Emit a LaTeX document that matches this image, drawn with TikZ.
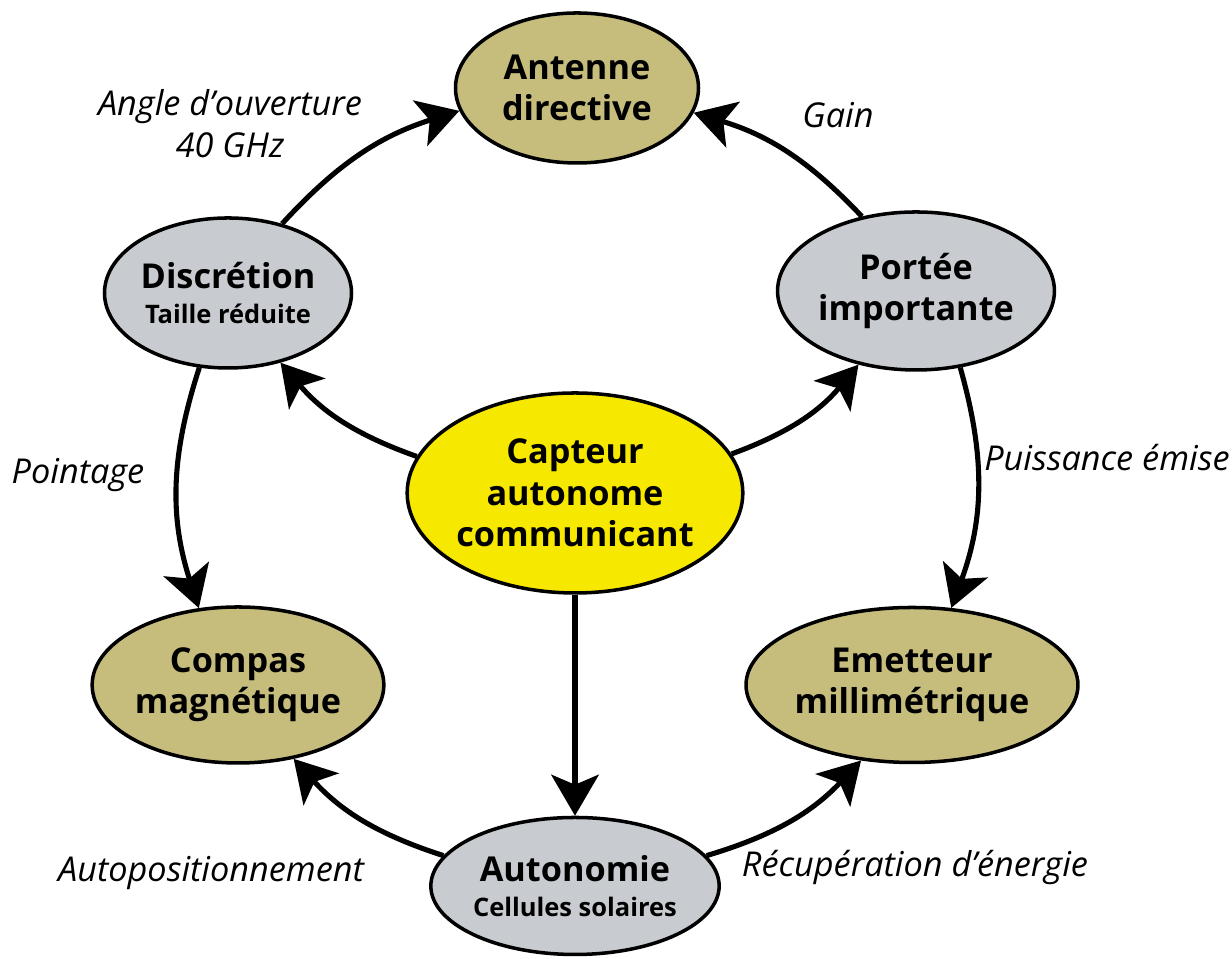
\documentclass[tikz,border=0pt]{standalone}
\usepackage{fontspec}
\setmainfont{Open Sans}
\usetikzlibrary{shapes.geometric,arrows.meta}
\definecolor{kaki}{RGB}{198,189,125}
\definecolor{gris}{RGB}{200,204,208}
\definecolor{jaune}{RGB}{247,232,0}
\newcommand{\petit}[1]{{\fontsize{14.5}{17}\selectfont #1}}

\begin{document}
\begin{tikzpicture}[
  bulle/.style={ellipse,draw,line width=2pt,inner sep=0pt,align=center,font=\bfseries\fontsize{19.5}{23.5}\selectfont},
  fleche/.style={line width=2.9pt,-{Stealth[length=0.82cm,width=0.95cm,inset=0.2cm]}},
  legende/.style={font=\itshape\fontsize{19.5}{24}\selectfont,align=center}]
\useasboundingbox (0,0) rectangle (24.64,19.18);
\node[bulle,fill=kaki,minimum width=4.86cm,minimum height=3cm] (ant) at (11.54,17.42) {Antenne\\directive};
\node[bulle,fill=gris,minimum width=4.6cm,minimum height=3cm] (disc) at (4.56,13.32) {Discrétion\\[-4pt]\petit{Taille réduite}};
\node[bulle,fill=gris,minimum width=4.84cm,minimum height=3.16cm] (port) at (18.32,13.36) {Portée\\importante};
\node[bulle,fill=jaune,minimum width=5.56cm,minimum height=4cm] (capt) at (11.5,9.32) {Capteur\\autonome\\communicant};
\node[bulle,fill=kaki,minimum width=5.4cm,minimum height=3.12cm] (comp) at (4.76,5.48) {Compas\\magnétique};
\node[bulle,fill=kaki,minimum width=5.5cm,minimum height=3.1cm] (emet) at (18.24,5.48) {Emetteur\\millimétrique};
\node[bulle,fill=gris,minimum width=4.6cm,minimum height=2.74cm] (auto) at (11.5,1.46) {Autonomie\\[-4pt]\petit{Cellules solaires}};
\draw[fleche] (disc.52) to[bend left=15] (ant.191);
\draw[fleche] (port.126) to[bend right=15] (ant.348);
\draw[fleche] (capt.167) to[bend left=15] (disc.307);
\draw[fleche] (capt.14) to[bend right=15] (port.232);
\draw[fleche] (disc.249) to[bend right=18] (comp.117);
\draw[fleche] (port.300) to[bend left=18] (emet.63);
\draw[fleche] (capt.south) -- (auto.north);
\draw[fleche] (auto.167) to[bend left=15] (comp.307);
\draw[fleche] (auto.13) to[bend right=15] (emet.236);
\node[legende] (angle) at (4.6,16.7) {Angle d’ouverture\\40 GHz};
\node[legende] (gain) at (16.76,16.88) {Gain};
\node[legende] (point) at (1.56,9.68) {Pointage};
\node[legende] (puiss) at (22.14,10.02) {Puissance émise};
\node[legende] (autopos) at (4.22,1.72) {Autopositionnement};
\node[legende] (recup) at (18.3,1.82) {Récupération d’énergie};
\end{tikzpicture}
\end{document}
